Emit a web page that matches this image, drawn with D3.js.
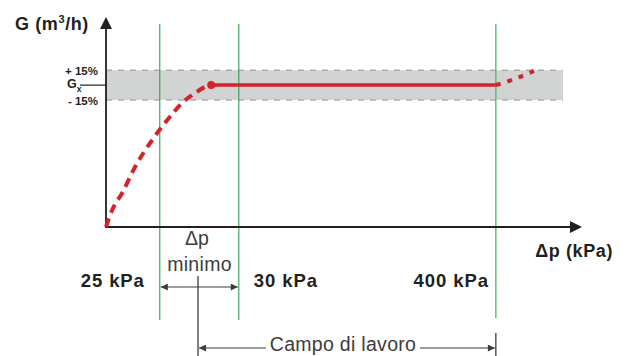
<!DOCTYPE html>
<html><head><meta charset="utf-8">
<script src="https://cdn.jsdelivr.net/npm/d3@7"></script>
<style>body{margin:0;background:#fff}svg{display:block}text{font-family:"Liberation Sans",Arial,Helvetica,sans-serif}</style>
</head><body>
<script>
// ---- data (schematic units) ----
const markerPositions = [11.3, 27.9, 81.9];          // Δp marks on x (25, 30, 400 kPa)
const markerLabels = ["25 kPa", "30 kPa", "400 kPa"];
const gx = 100;                                      // nominal flow Gx
const bandLimits = [89.5, 110.5];                    // -15% / +15%
const bandLabels = ["- 15%", "+ 15%"];
const bandEnd = 96;
const curveRise = [[0,0],[1.3,12],[3.4,24],[6.1,42.3],[9.7,61.3],[13.4,77.5],[16,87.4],[18.7,94.4],[20.8,98.7],[22.1,100]];
const curveFlat = [[22.1,100],[81.9,100]];
const curveTail = [[81.9,100],[84.7,102.9],[87.4,106.4],[89.9,110]];
const xAxisLabel = "\u0394p (kPa)";
const yAxisLabel = "G (m";

const W = 627, H = 356;
const svg = d3.select("body").append("svg").attr("width", W).attr("height", H);
const x = d3.scaleLinear().domain([0, 100]).range([106, 582]);
const y = d3.scaleLinear().domain([0, 148]).range([227, 17]);
const red = "#d3232b", green = "#2f9e4f", dark = "#231f20", grey = "#3c3c3c";

// band
svg.append("rect").attr("x", x(0)).attr("y", y(bandLimits[1]))
  .attr("width", x(bandEnd) - x(0)).attr("height", y(bandLimits[0]) - y(bandLimits[1]))
  .attr("fill", "#d2d3d3");
bandLimits.forEach(v => svg.append("line").attr("x1", x(0)).attr("x2", x(bandEnd))
  .attr("y1", y(v)).attr("y2", y(v)).attr("stroke", "#aeaeae").attr("stroke-width", 1.5)
  .attr("stroke-dasharray", "6,6"));

// green vertical lines
markerPositions.forEach((m, i) => svg.append("line").attr("x1", x(m)).attr("x2", x(m))
  .attr("y1", 24).attr("y2", i === 2 ? 318 : 320)
  .attr("stroke", i === 2 ? "#55b877" : green).attr("stroke-width", i === 2 ? 1.4 : 1.1));

// axes
svg.append("line").attr("x1", x(0)).attr("x2", x(0)).attr("y1", y(0)).attr("y2", 27)
  .attr("stroke", dark).attr("stroke-width", 1.8);
svg.append("path").attr("d", `M${x(0)},17 L${x(0)+6},29 L${x(0)-6},29 Z`).attr("fill", dark);
svg.append("line").attr("x1", x(0)-1).attr("x2", 572).attr("y1", y(0)).attr("y2", y(0))
  .attr("stroke", dark).attr("stroke-width", 1.8);
svg.append("path").attr("d", `M${x(100)},${y(0)} L${x(100)-12},${y(0)-6} L${x(100)-12},${y(0)+6} Z`).attr("fill", dark);

// Gx tick
svg.append("line").attr("x1", 80).attr("x2", x(0)).attr("y1", y(gx)).attr("y2", y(gx))
  .attr("stroke", dark).attr("stroke-width", 1.2);

// curve
const line = d3.line().x(d => x(d[0])).y(d => y(d[1])).curve(d3.curveMonotoneX);
svg.append("path").attr("d", line(curveRise)).attr("fill", "none").attr("stroke", red)
  .attr("stroke-width", 4).attr("stroke-dasharray", "9,6");
svg.append("path").attr("d", line(curveFlat)).attr("fill", "none").attr("stroke", red)
  .attr("stroke-width", 3.5);
svg.append("path").attr("d", line(curveTail)).attr("fill", "none").attr("stroke", red)
  .attr("stroke-width", 4).attr("stroke-dasharray", "5,7");
svg.append("circle").attr("cx", x(curveFlat[0][0])).attr("cy", y(curveFlat[0][1])).attr("r", 4).attr("fill", red);

// y labels
const yl = svg.append("text").attr("x", 15).attr("y", 30).attr("font-size", 18).attr("font-weight", "bold")
  .attr("fill", dark).attr("letter-spacing", 0.6);
yl.append("tspan").text(yAxisLabel);
yl.append("tspan").attr("font-size", 11).attr("dy", -7).text("3");
yl.append("tspan").attr("dy", 7).text("/h)");

svg.append("text").attr("x", 98).attr("y", y(bandLimits[1]) + 5).attr("text-anchor", "end")
  .attr("font-size", 11.5).attr("font-weight", "bold").attr("fill", dark).text(bandLabels[1]);
svg.append("text").attr("x", 98).attr("y", y(bandLimits[0]) + 5).attr("text-anchor", "end")
  .attr("font-size", 11.5).attr("font-weight", "bold").attr("fill", dark).text(bandLabels[0]);
const gt = svg.append("text").attr("x", 67).attr("y", y(gx) + 3).attr("font-size", 12.5)
  .attr("font-weight", "bold").attr("fill", dark);
gt.append("tspan").text("G");
gt.append("tspan").attr("font-size", 8.5).attr("dy", 4).text("x");

// x labels
svg.append("text").attr("x", 613).attr("y", 257).attr("text-anchor", "end").attr("font-size", 18)
  .attr("font-weight", "bold").attr("fill", dark).attr("letter-spacing", 0.6).text(xAxisLabel);
const labX = [[x(markerPositions[0]) - 15, "end"], [x(markerPositions[1]) + 15, "start"], [x(markerPositions[2]) - 7, "end"]];
markerLabels.forEach((t, i) => svg.append("text").attr("x", labX[i][0]).attr("y", 287)
  .attr("text-anchor", labX[i][1]).attr("font-size", 18.5).attr("font-weight", "bold")
  .attr("letter-spacing", 0.9).attr("fill", dark).text(t));

// Δp minimo annotation
svg.append("text").attr("x", 197).attr("y", 245).attr("text-anchor", "middle").attr("font-size", 19.5)
  .attr("fill", grey).text("\u0394p");
svg.append("text").attr("x", 199.5).attr("y", 271).attr("text-anchor", "middle").attr("font-size", 19.5)
  .attr("letter-spacing", 0.3).attr("fill", grey).text("minimo");
svg.append("defs").html(`<marker id="ah" viewBox="0 0 10 10" refX="10" refY="5" markerWidth="8" markerHeight="7" orient="auto-start-reverse" markerUnits="userSpaceOnUse"><path d="M0,0 L10,5 L0,10 Z" fill="${grey}"/></marker>`);
svg.append("line").attr("x1", x(markerPositions[0]) + 1).attr("x2", x(markerPositions[1]) - 1)
  .attr("y1", 287).attr("y2", 287).attr("stroke", grey).attr("stroke-width", 1.2)
  .attr("marker-start", "url(#ah)").attr("marker-end", "url(#ah)");

// Campo di lavoro
const cx0 = 198, cx1 = x(markerPositions[2]);
svg.append("line").attr("x1", cx0).attr("x2", cx0).attr("y1", 276).attr("y2", 356).attr("stroke", grey).attr("stroke-width", 1.3);
svg.append("line").attr("x1", cx1).attr("x2", cx1).attr("y1", 333).attr("y2", 356).attr("stroke", grey).attr("stroke-width", 1.3);
svg.append("line").attr("x1", cx0 + 1).attr("x2", 266).attr("y1", 348).attr("y2", 348).attr("stroke", grey)
  .attr("stroke-width", 1.2).attr("marker-start", "url(#ah)");
svg.append("line").attr("x1", 420).attr("x2", cx1 - 1).attr("y1", 348).attr("y2", 348).attr("stroke", grey)
  .attr("stroke-width", 1.2).attr("marker-end", "url(#ah)");
svg.append("text").attr("x", 343).attr("y", 351).attr("text-anchor", "middle").attr("font-size", 19.5)
  .attr("letter-spacing", 0.3).attr("fill", grey).text("Campo di lavoro");
</script>
</body></html>
